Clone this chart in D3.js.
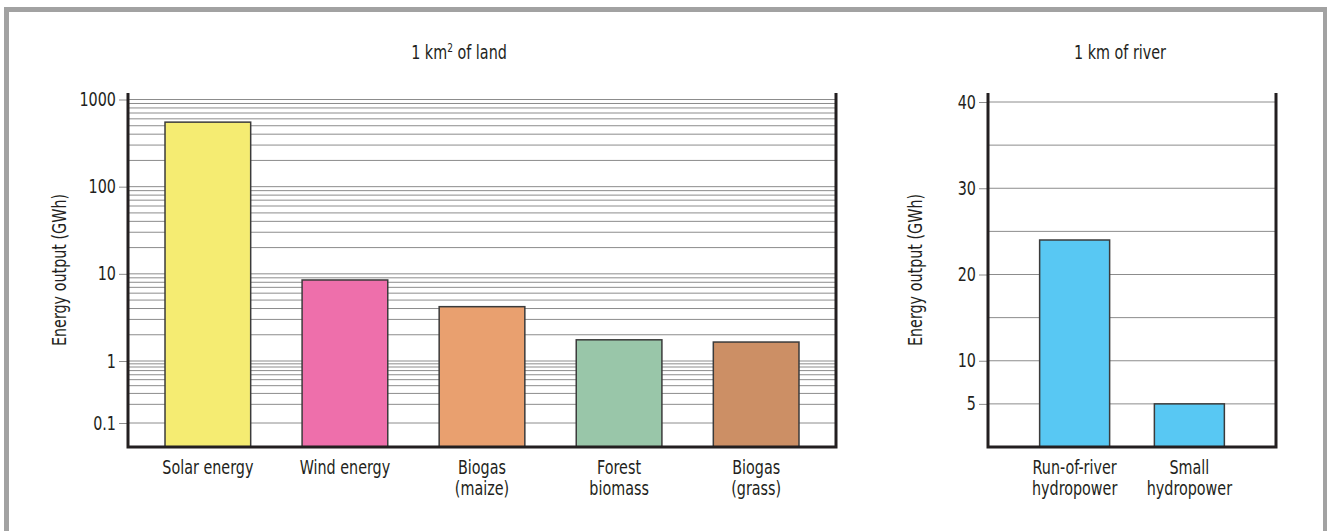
<!DOCTYPE html>
<html>
<head>
<meta charset="utf-8">
<script src="https://cdn.jsdelivr.net/npm/d3@7"></script>
<style>
  body { margin: 0; background: #fff; }
  text { font-family: "DejaVu Sans Condensed", "Liberation Sans Narrow", sans-serif; fill: #231f20; }
</style>
</head>
<body>
<div id="chart"></div>
<script>
// land chart data (GWh per km2, log scale)
var landCategories = [['Solar energy'], ['Wind energy'], ['Biogas', '(maize)'], ['Forest', 'biomass'], ['Biogas', '(grass)']];
var landValues = [550, 8.5, 4.2, 1.75, 1.65];
var landColors = ['#f5ec72', '#ee6fab', '#e9a06f', '#99c6a9', '#cc8f65'];
var landTickLabels = [0.1, 1, 10, 100, 1000];

// river chart data (GWh per km)
var riverCategories = [['Run-of-river', 'hydropower'], ['Small', 'hydropower']];
var riverValues = [24, 5];
var riverColor = '#58c8f3';
var riverTickLabels = [5, 10, 20, 30, 40];
var riverGridValues = [5, 10, 15, 20, 25, 30, 35, 40];

var width = 1327, height = 531;
var plotTop = 93, plotBottom = 447;
var squeeze = 0.84;   // narrow the font to look condensed
var fontSize = '19px';

var svg = d3.select('#chart')
    .append('svg')
    .attr('width', width)
    .attr('height', height);

// grey frame
svg.append('rect')
    .attr('x', 6.5).attr('y', 9.5)
    .attr('width', 1319).attr('height', 600)
    .attr('fill', 'none')
    .attr('stroke', '#a2a2a2')
    .attr('stroke-width', 5);

// text helper: condensed text at x,y
function addText(parent, x, y, str, rotate) {
    return parent.append('text')
        .attr('transform', 'translate(' + x + ',' + y + ')' + (rotate ? ' rotate(' + rotate + ')' : '') + ' scale(' + squeeze + ',1)')
        .attr('text-anchor', 'middle')
        .style('font-size', fontSize)
        .text(str);
}

function drawPanel(opts) {
    var g = svg.append('g');
    var x = d3.scaleBand()
        .domain(d3.range(opts.values.length))
        .range([opts.left, opts.right])
        .paddingInner(opts.padIn)
        .paddingOuter(opts.padOut);
    var y = opts.y;

    // gridlines
    g.selectAll('.grid')
        .data(opts.grid)
        .enter()
        .append('line')
        .attr('x1', opts.left).attr('x2', opts.right)
        .attr('y1', d => y(d)).attr('y2', d => y(d))
        .attr('stroke', '#8c8c8c')
        .attr('stroke-width', 1);

    // bars
    g.selectAll('.bar')
        .data(opts.values)
        .enter()
        .append('rect')
        .attr('x', (d, i) => x(i))
        .attr('width', x.bandwidth())
        .attr('y', d => y(d))
        .attr('height', d => plotBottom - y(d))
        .attr('fill', (d, i) => opts.colors[i])
        .attr('stroke', '#3b3b3b')
        .attr('stroke-width', 1.5);

    // left axis with ticks
    var axis = d3.axisLeft(y)
        .tickValues(opts.ticks)
        .tickSize(9)
        .tickPadding(3)
        .tickFormat(opts.format);
    var ax = g.append('g')
        .attr('transform', 'translate(' + opts.left + ',0)')
        .call(axis);
    ax.select('.domain').remove();
    ax.selectAll('.tick line').attr('stroke', '#8c8c8c');
    ax.selectAll('.tick text')
        .attr('x', -12 / squeeze)
        .attr('transform', 'scale(' + squeeze + ',1)')
        .style('font-size', fontSize)
        .attr('fill', '#231f20');

    // frame lines: left, right, bottom
    g.append('path')
        .attr('d', 'M' + opts.left + ',' + plotTop + 'V' + plotBottom + 'H' + opts.right + 'V' + plotTop)
        .attr('fill', 'none')
        .attr('stroke', '#231f20')
        .attr('stroke-width', 3);

    // category labels
    opts.categories.forEach(function (lines, i) {
        lines.forEach(function (line, j) {
            addText(g, x(i) + x.bandwidth() / 2, 474 + j * 21, line);
        });
    });

    // y axis title
    addText(g, opts.titleX, (plotTop + plotBottom) / 2, 'Energy output (GWh)', -90);

    return g;
}

var yLog = d3.scaleLog()
    .domain([0.1, 1, 1000])
    .range([423, 361, 99.5]);

var landPanel = drawPanel({
    left: 128, right: 836,
    padIn: 0.375, padOut: 0.27,
    values: landValues,
    colors: landColors,
    categories: landCategories,
    y: yLog,
    grid: yLog.ticks(),
    ticks: landTickLabels,
    format: d3.format('~g'),
    titleX: 66
});

var yLin = d3.scaleLinear()
    .domain([0, 40])
    .range([plotBottom, 102]);

var riverPanel = drawPanel({
    left: 988, right: 1276,
    padIn: 0.39, padOut: 0.45,
    values: riverValues,
    colors: riverValues.map(() => riverColor),
    categories: riverCategories,
    y: yLin,
    grid: riverGridValues,
    ticks: riverTickLabels,
    format: d3.format('d'),
    titleX: 922
});

// panel titles
var t1 = addText(svg, 459, 59, null);
t1.append('tspan').text('1 km');
t1.append('tspan').attr('dy', -7).style('font-size', '12px').text('2');
t1.append('tspan').attr('dy', 7).text(' of land');

addText(svg, 1120, 59, '1 km of river');
</script>
</body>
</html>
